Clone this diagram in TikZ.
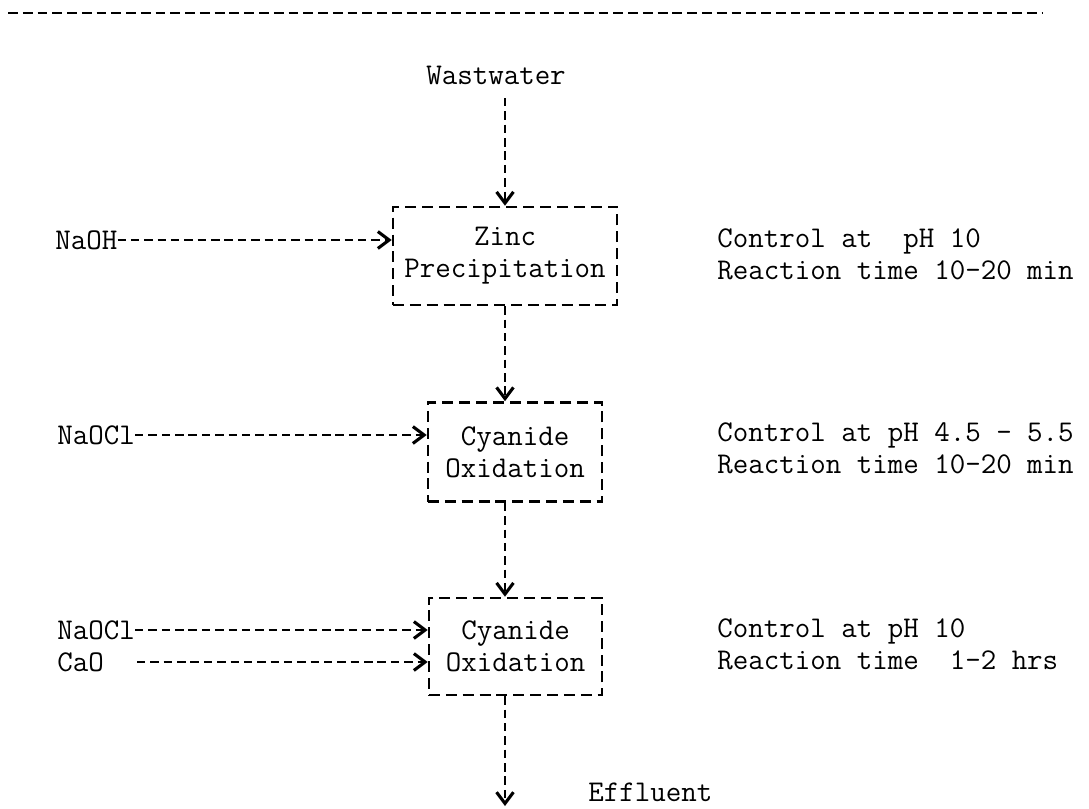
\documentclass[tikz,border=0pt]{standalone}
\usepackage{fontspec}
\usepackage{tikz}
\usetikzlibrary{arrows.meta}

\begin{document}
\begin{tikzpicture}[x=0.025cm, y=-0.025cm,
    every node/.style={font=\fontsize{21.4}{22.8}\selectfont\ttfamily, inner sep=0pt},
    tank/.style={draw, line width=1.8pt, dash pattern=on 7.8pt off 4.2pt, align=center},
    flowline/.style={line width=1.7pt, dash pattern=on 6pt off 3.5pt,
      -{Straight Barb[length=8pt,width=12pt,line width=2.2pt]}},
    note/.style={anchor=west, align=left}]

  % Page frame
  \useasboundingbox (0,0) rectangle (1089,808);

  % Dashed rule at the top
  \draw[line width=2pt, dash pattern=on 7pt off 3.5pt] (8,13) -- (1043,13);

  % Treatment stages
  \node[tank, minimum width=5.6cm, minimum height=2.45cm] (zinc) at (505,256) {Zinc\\Precipitation};
  \node[tank, minimum width=4.35cm, minimum height=2.475cm] (cyanA) at (515,452) {Cyanide\\Oxidation};
  \node[tank, minimum width=4.325cm, minimum height=2.425cm] (cyanB) at (515.5,646.5) {Cyanide\\Oxidation};

  % Inflow and outflow
  \node (waste) at (496,75) {Wastwater};
  \coordinate (wasteout) at (505,98);
  \node[anchor=west] (effluent) at (588,792) {Effluent};
  \coordinate (effout) at (505,806);

  % Chemicals fed from the left
  \node[anchor=west] (naoh) at (55,240) {NaOH};
  \node[anchor=west] (naoclA) at (57,435) {NaOCl};
  \node[anchor=west] (naoclB) at (57,630) {NaOCl};
  \node[anchor=west] (cao) at (57,662) {CaO};
  \coordinate (caoout) at (137,662);

  % Operating conditions on the right
  \node[note] (condA) at (717,254) {Control at\ \ pH 10\\Reaction time 10-20 min};
  \node[note] (condB) at (717,448) {Control at pH 4.5 - 5.5\\Reaction time 10-20 min};
  \node[note] (condC) at (717,644) {Control at pH 10\\Reaction time\ \ 1-2 hrs};

  % Main flow downwards
  \draw[flowline] (wasteout) -- (zinc.north);
  \draw[flowline] (zinc.south) -- (zinc.south |- cyanA.north);
  \draw[flowline] (zinc.south |- cyanA.south) -- (zinc.south |- cyanB.north);
  \draw[flowline] (zinc.south |- cyanB.south) -- (effout);

  % Chemical dosing
  \draw[flowline] (naoh.east) -- (naoh.east -| zinc.west);
  \draw[flowline] (naoclA.east) -- (naoclA.east -| cyanA.west);
  \draw[flowline] (naoclB.east) -- (naoclB.east -| cyanB.west);
  \draw[flowline] (caoout) -- (caoout -| cyanB.west);

\end{tikzpicture}
\end{document}
